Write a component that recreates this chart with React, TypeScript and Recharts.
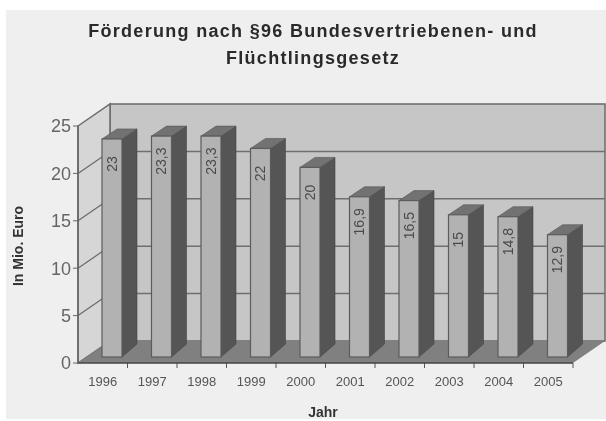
import { Bar, BarChart, ReferenceArea, XAxis, YAxis } from "recharts";

const years = ["1996", "1997", "1998", "1999", "2000", "2001", "2002", "2003", "2004", "2005"];
const funding = [23, 23.3, 23.3, 22, 20, 16.9, 16.5, 15, 14.8, 12.9];
const yTicks = [0, 5, 10, 15, 20, 25];
const titleLines = ["Förderung nach §96 Bundesvertriebenen- und", "Flüchtlingsgesetz"];

const data = years.map((year, i) => ({ year, funding: funding[i] }));

// oblique offset of the back wall
const depthX = 32;
const depthY = 22;
const font = "'Liberation Sans', Arial, sans-serif";

// walls, floor and grid of the fake 3d box
function Box(props: any) {
    const { x, y, width, height } = props;
    const bottom = y + height;
    const right = x + width;
    const levelY = (t: number) => bottom - (t / 25) * height;
    return (
        <g>
            <rect x={x + depthX} y={y - depthY} width={width} height={height} fill="#c6c6c6" stroke="#6a6a6a" strokeWidth={1.5} />
            <polygon
                points={`${x},${y} ${x + depthX},${y - depthY} ${x + depthX},${bottom - depthY} ${x},${bottom}`}
                fill="#d6d6d6"
                stroke="#6a6a6a"
                strokeWidth={1.5}
            />
            <polygon
                points={`${x},${bottom} ${x + depthX},${bottom - depthY} ${right + depthX},${bottom - depthY} ${right},${bottom}`}
                fill="#808080"
            />
            {yTicks.filter((t) => t > 0 && t < 25).map((t) => (
                <g key={t}>
                    <line x1={x} y1={levelY(t)} x2={x + depthX} y2={levelY(t) - depthY} stroke="#6a6a6a" strokeWidth={1.2} />
                    <line x1={x + depthX} y1={levelY(t) - depthY} x2={right + depthX} y2={levelY(t) - depthY} stroke="#6f6f6f" strokeWidth={1.5} />
                </g>
            ))}
            {years.map((year, i) => (
                <line
                    key={year}
                    x1={x + ((i + 1) * width) / years.length}
                    y1={bottom}
                    x2={x + ((i + 1) * width) / years.length}
                    y2={bottom + 5}
                    stroke="#555"
                />
            ))}
        </g>
    );
}

function Box3D(props: any) {
    const { x, y, width, height, value } = props;
    const left = x + 9;
    const top = y - 6;
    const right = left + width;
    const bottom = top + height;
    const dx = 15;
    const dy = 10;
    const label = String(value).replace(".", ",");
    return (
        <g>
            <polygon points={`${right},${top} ${right + dx},${top - dy} ${right + dx},${bottom - dy - 3} ${right},${bottom}`} fill="#555555" stroke="#444" strokeWidth={0.6} />
            <polygon points={`${left},${top} ${left + dx},${top - dy} ${right + dx},${top - dy} ${right},${top}`} fill="#727272" stroke="#555" strokeWidth={0.6} />
            <rect x={left} y={top} width={width} height={height} fill="#b2b2b2" stroke="#5c5c5c" strokeWidth={1.2} />
            <text
                x={left + width / 2}
                y={top + 25}
                transform={`rotate(-90 ${left + width / 2} ${top + 25})`}
                textAnchor="middle"
                dominantBaseline="central"
                fontSize={14}
                fontFamily={font}
                fill="#4a4a4a"
            >
                {label}
            </text>
        </g>
    );
}

export default function App() {
    return (
        <div style={{ position: "absolute", left: 0, top: 0, width: 606, height: 421, background: "#fff", overflow: "hidden" }}>
            <div style={{ position: "absolute", left: 6, top: 10, width: 600, height: 409, background: "#efefef" }} />
            <div style={{ position: "absolute", left: 0, top: 0, filter: "blur(0.6px)" }}>
                <BarChart width={606} height={421} data={data} margin={{ top: 126, right: 33, bottom: 28, left: 28 }} barCategoryGap={0}>
                    <XAxis
                        dataKey="year"
                        height={30}
                        interval={0}
                        axisLine={{ stroke: "#444", strokeWidth: 1.5 }}
                        tickLine={false}
                        tick={{ fontSize: 13, fontFamily: font, fill: "#555" }}
                        tickMargin={8}
                    />
                    <YAxis
                        width={50}
                        domain={[0, 25]}
                        ticks={yTicks}
                        axisLine={{ stroke: "#666", strokeWidth: 1.5 }}
                        tickLine={{ stroke: "#666" }}
                        tickSize={5}
                        tick={{ fontSize: 18, fontFamily: font, fill: "#666" }}
                    />
                    <ReferenceArea x1="1996" x2="2005" y1={0} y2={25} shape={Box} ifOverflow="visible" />
                    <Bar dataKey="funding" barSize={20} isAnimationActive={false} shape={Box3D} />
                    {titleLines.map((line, i) => (
                        <text key={line} x={313} y={37 + i * 27} textAnchor="middle" fontSize={18} fontWeight="bold" letterSpacing={1.3} fontFamily={font} fill="#2a2a2a">
                            {line}
                        </text>
                    ))}
                    <text x={23} y={246} transform="rotate(-90 23 246)" textAnchor="middle" fontSize={14} fontWeight="bold" fontFamily={font} fill="#333">
                        In Mio. Euro
                    </text>
                    <text x={323} y={417} textAnchor="middle" fontSize={14} fontWeight="bold" fontFamily={font} fill="#333">
                        Jahr
                    </text>
                </BarChart>
            </div>
        </div>
    );
}
